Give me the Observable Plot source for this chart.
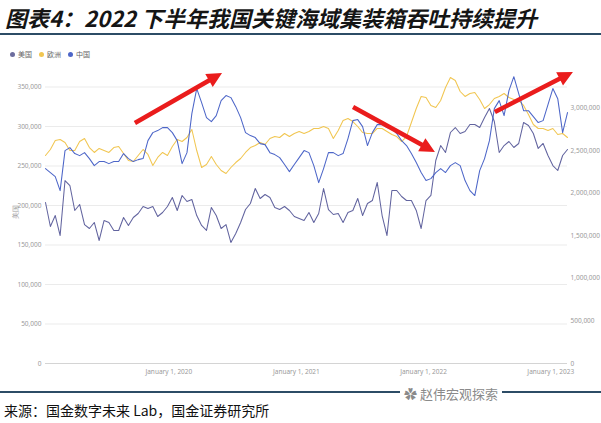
<!DOCTYPE html>
<html><head><meta charset="utf-8">
<script src="https://cdn.jsdelivr.net/npm/d3@7"></script>
<script src="https://cdn.jsdelivr.net/npm/@observablehq/plot@0.6"></script>
<style>
body{margin:0;background:#fff;width:601px;height:423px;position:relative;overflow:hidden;font-family:"Noto Sans CJK SC","Noto Sans",sans-serif;}
#title{position:absolute;left:5px;top:1px;font-size:22px;font-weight:bold;font-style:italic;color:#151515;white-space:nowrap;}
.rule{position:absolute;left:0;width:601px;height:2px;background:#2c4c66;}
#legend{position:absolute;left:10px;top:49px;font-size:7px;color:#666;display:flex;gap:7px;align-items:center;}
#legend span.i{display:flex;align-items:center;gap:3px;}
#legend span.c{width:5px;height:5px;border-radius:50%;display:inline-block;}
#chart{position:absolute;left:0;top:40px;}
#source{position:absolute;left:4px;top:400px;font-size:14px;color:#111;white-space:nowrap;}
#wm{position:absolute;left:400px;top:384px;font-size:13px;color:#8a8a8a;background:#fff;padding:0 4px;white-space:nowrap;}
</style></head>
<body>
<div id="title">图表4：2022 下半年我国关键海域集装箱吞吐持续提升</div>
<div class="rule" style="top:33px"></div>
<div id="chart"></div>
<div id="legend"></div>
<div class="rule" style="top:391px"></div>
<div id="wm">✿ 赵伟宏观探索</div>
<div id="source">来源：国金数字未来 Lab，国金证券研究所</div>
<script>
const seriesNames = ["美国", "欧洲", "中国"];
const seriesColors = ["#62649f", "#f1c651", "#4d66c8"];
const startDate = "2019-01-12";
const stepDays = 14;
const endDate = "2023-02-18";

const usValues = [203800,173400,187300,162000,231600,225300,193700,201300,175900,170900,
178500,155700,181000,178500,168400,168400,184800,174700,184800,189900,
198700,196200,198700,186100,191100,198700,210100,193700,212700,205100,
207600,187300,174700,168400,197500,187300,170900,175900,153200,164600,
178500,194900,202500,221500,208900,213900,210100,197500,194900,198700,
193700,186100,183500,181000,191100,178500,189900,221500,194900,188600,
189900,178500,191100,193700,208900,187300,202500,206300,229100,187300,
162000,219000,219000,211400,206300,206300,193700,170900,206300,212700,
257000,275900,267100,292400,298700,291100,293700,302500,302500,298700,
311400,322800,306300,267100,275900,281000,273400,278500,305100,301300,
291100,272200,278500,263300,250600,244300,263300,270900];

const euValues = [263300,270900,282300,283500,279700,269600,269600,281000,284800,273400,
267100,272200,269600,267100,273400,274700,265800,257000,255700,263300,
270900,264600,250600,260800,267100,263300,274700,283500,281000,286100,
296200,269600,248100,251900,262000,251900,244300,240500,248100,254400,
259500,267100,273400,275900,279700,277200,284800,287300,286100,291100,
287300,291100,293700,291100,293700,297500,297500,300000,297500,284800,
294900,307600,310100,306300,300000,292400,291100,291100,297500,297500,
293700,289900,287300,281000,287300,305100,322800,338000,336700,326600,
324100,332900,349400,362000,358200,344300,338000,341800,343000,334200,
322800,327800,335400,338000,341800,336700,334200,332900,326600,315200,
302500,297500,297500,294900,297500,289900,291100,286100];

const cnValues = [2289000,2242000,2195000,2030000,2500000,2535000,2465000,2441000,2476000,2406000,
2324000,2371000,2371000,2347000,2371000,2371000,2465000,2406000,2371000,2394000,
2406000,2617000,2711000,2735000,2770000,2770000,2711000,2617000,2347000,2476000,
2934000,3228000,3063000,2887000,2840000,2911000,3087000,3146000,3122000,3016000,
2887000,2711000,2676000,2653000,2582000,2570000,2476000,2453000,2418000,2336000,
2253000,2336000,2418000,2500000,2476000,2324000,2124000,2289000,2476000,2476000,
2441000,2465000,2641000,2852000,2864000,2782000,2559000,2711000,2805000,2805000,
2770000,2758000,2700000,2617000,2559000,2465000,2359000,2242000,2148000,2171000,
2242000,2289000,2242000,2324000,2359000,2324000,2148000,2030000,1972000,2265000,
2406000,2617000,2993000,3087000,2911000,3204000,3368000,3169000,2969000,2969000,
2899000,2829000,2852000,3040000,3228000,3110000,2711000,2946000];

const leftTicks = [0,50000,100000,150000,200000,250000,300000,350000];
const rightTicks = [0,500000,1000000,1500000,2000000,2500000,3000000];
const xTicks = ["2020-01-01","2021-01-01","2022-01-01","2023-01-01"];
// right axis (中国) expressed in left-axis units
const rightToLeft = 0.1078;

const arrowFrom = [["2019-09-27",303800],["2021-06-14",324100],["2022-07-26",317700]];
const arrowTo   = [["2020-06-03",367100],["2022-02-04",267100],["2023-03-07",368400]];

const parse = s => new Date(s + "T00:00:00Z");
const dates = usValues.map((_, i) => d3.utcDay.offset(parse(startDate), i * stepDays));
const rows = [];
[usValues, euValues, cnValues].forEach((vals, k) => {
  vals.forEach((v, i) => rows.push({date: dates[i], series: seriesNames[k], value: v,
    plotValue: k === 2 ? v * rightToLeft : v}));
});
const arrows = arrowFrom.map((a, i) => ({x1: parse(a[0]), y1: a[1], x2: parse(arrowTo[i][0]), y2: arrowTo[i][1]}));

// legend
const lg = document.getElementById("legend");
seriesNames.forEach((n, i) => {
  const s = document.createElement("span"); s.className = "i";
  s.innerHTML = `<span class="c" style="background:${i===0?'#6d6d9e':seriesColors[i]}"></span>${n}`;
  lg.appendChild(s);
});

const fmt = d3.format(",");
const chart = Plot.plot({
  width: 601, height: 345,
  marginLeft: 45, marginRight: 34, marginTop: 20, marginBottom: 22,
  style: {fontFamily: "'Noto Sans', sans-serif", fontSize: "6.5px", color: "#9a9a9a", background: "transparent"},
  x: {type: "utc", domain: [parse(startDate), parse(endDate)]},
  y: {domain: [0, 350000], range: [323, 46.5]},
  color: {domain: seriesNames, range: seriesColors},
  marks: [
    Plot.gridY(leftTicks, {stroke: "#e6e6e6", strokeOpacity: 1, strokeWidth: 0.8}),
    Plot.ruleY([0], {stroke: "#d4d4d4"}),
    Plot.axisY(leftTicks, {anchor: "left", tickSize: 0, tickPadding: 4, tickFormat: fmt,
      label: "美国", labelAnchor: "center", labelOffset: 32, labelArrow: "none"}),
    Plot.axisY(rightTicks.map(v => v * rightToLeft), {anchor: "right", tickSize: 0, tickPadding: 3,
      tickFormat: d => fmt(Math.round(d / rightToLeft / 1000) * 1000), label: null}),
    Plot.axisX(xTicks.map(parse), {tickSize: 0, tickPadding: 6, tickFormat: d3.utcFormat("%B %-d, %Y"), label: null}),
    Plot.line(rows, {x: "date", y: "plotValue", z: "series", stroke: "series", strokeWidth: 1.05, curve: "linear"}),
    Plot.link(arrows, {x1: "x1", y1: "y1", x2: "x2", y2: "y2",
      render(index, scales, values) {
        const g = d3.create("svg:g");
        for (const i of index) {
          const x1 = values.x1[i], y1 = values.y1[i], x2 = values.x2[i], y2 = values.y2[i];
          const dx = x2 - x1, dy = y2 - y1, L = Math.hypot(dx, dy);
          const ux = dx / L, uy = dy / L, px = -uy, py = ux;
          const hl = 15, hw = 7.5, sw = 2.3;
          const bx = x2 - ux * hl, by = y2 - uy * hl;
          const pts = [[x1 + px*sw, y1 + py*sw], [bx + px*sw, by + py*sw], [bx + px*hw, by + py*hw], [x2, y2],
                       [bx - px*hw, by - py*hw], [bx - px*sw, by - py*sw], [x1 - px*sw, y1 - py*sw]];
          g.append("path").attr("d", "M" + pts.map(p => p.join(",")).join("L") + "Z").attr("fill", "#ea1c1c");
        }
        return g.node();
      }})
  ]
});
document.getElementById("chart").appendChild(chart);
</script>
</body></html>
